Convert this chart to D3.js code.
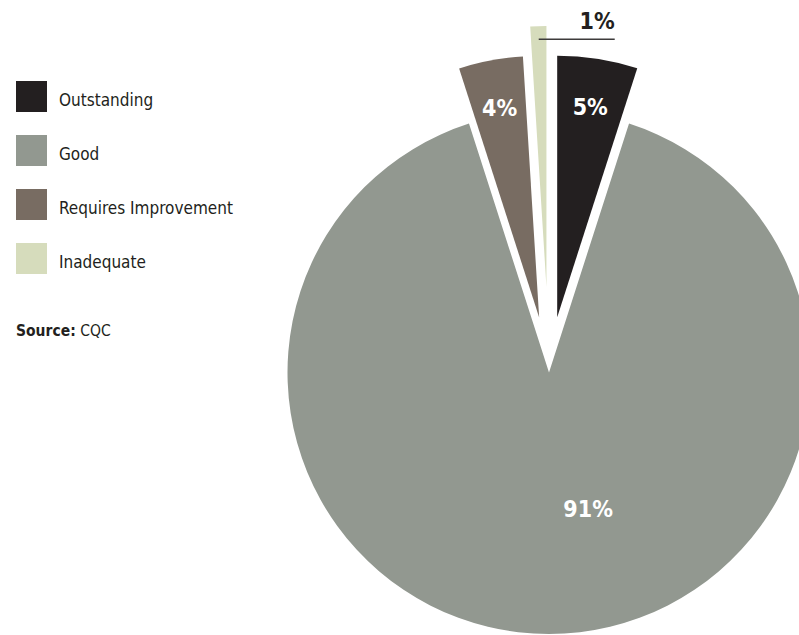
<!DOCTYPE html>
<html>
<head>
<meta charset="utf-8">
<script src="https://cdn.jsdelivr.net/npm/d3@7"></script>
<style>
  html, body { margin: 0; padding: 0; background: #ffffff; }
  svg { display: block; }
</style>
</head>
<body>
<svg id="chart" width="799" height="635"></svg>
<script>
// CQC ratings breakdown
const categories = ["Outstanding", "Good", "Requires Improvement", "Inadequate"];
const shares = [5, 91, 4, 1];
const shareLabels = ["5%", "91%", "4%", "1%"];
const sourceLabel = "CQC";

const W = 799, H = 635;
const cx = 549, cy = 369.5, R = 261.5;

const palette = ["#231f20", "#929890", "#786c62", "#d6dcbc"];
const color = d3.scaleOrdinal().domain(categories).range(palette);

// how far each wedge is pulled out from the centre
const explode = { "Outstanding": 53, "Good": 3, "Requires Improvement": 53, "Inadequate": 82 };
// label placement: radius from the wedge's own centre, and an angular nudge (degrees)
const labelPos = {
  "Outstanding": { r: 213, turn: 0 },
  "Good": { r: 142, turn: -16 },
  "Requires Improvement": { r: 213, turn: 0 }
};

const data = categories.map((c, i) => ({ category: c, value: shares[i], label: shareLabels[i] }));

const svg = d3.select("#chart");

const pie = d3.pie().sort(null).value(d => d.value).startAngle(0).endAngle(2 * Math.PI);
const arc = d3.arc().innerRadius(0).outerRadius(R);
const arcs = pie(data);

const polar = (angle, r) => [Math.sin(angle) * r, -Math.cos(angle) * r];

const slices = svg.append("g").attr("class", "pie")
  .selectAll("g")
  .data(arcs)
  .join("g")
  .attr("transform", d => {
    const mid = (d.startAngle + d.endAngle) / 2;
    const [ox, oy] = polar(mid, explode[d.data.category]);
    return `translate(${cx + ox},${cy + oy})`;
  });

slices.append("path")
  .attr("d", arc)
  .attr("fill", d => color(d.data.category));

const labelFont = "'DejaVu Sans Condensed', 'DejaVu Sans', sans-serif";

// labels sitting inside their wedges
slices.filter(d => labelPos[d.data.category])
  .append("text")
  .attr("transform", d => {
    const p = labelPos[d.data.category];
    const mid = (d.startAngle + d.endAngle) / 2 + p.turn * Math.PI / 180;
    const [x, y] = polar(mid, p.r);
    return `translate(${x},${y})`;
  })
  .attr("text-anchor", "middle")
  .attr("dy", "0.36em")
  .attr("fill", "#ffffff")
  .attr("font-family", labelFont)
  .attr("font-weight", "bold")
  .attr("font-size", 23)
  .text(d => d.data.label);

// thin wedge gets an outside label with a leader line
const thin = slices.filter(d => !labelPos[d.data.category]);
thin.each(function (d) {
  const g = d3.select(this);
  const mid = (d.startAngle + d.endAngle) / 2;
  const [x0, y0] = polar(mid, R * 0.95);
  const x1 = x0 + 76;
  g.append("line")
    .attr("x1", x0).attr("y1", y0)
    .attr("x2", x1).attr("y2", y0)
    .attr("stroke", "#3d3b3b")
    .attr("stroke-width", 1.5);
  g.append("text")
    .attr("x", x1)
    .attr("y", y0 - 10)
    .attr("text-anchor", "end")
    .attr("fill", "#231f20")
    .attr("font-family", labelFont)
    .attr("font-weight", "bold")
    .attr("font-size", 23)
    .text(d.data.label);
});

// legend
const legendFont = "'DejaVu Sans Condensed', 'DejaVu Sans', sans-serif";
const legend = svg.append("g").attr("class", "legend").attr("transform", "translate(16,81)");
const item = legend.selectAll("g")
  .data(categories)
  .join("g")
  .attr("transform", (d, i) => `translate(0,${i * 54})`);

item.append("rect")
  .attr("width", 31)
  .attr("height", 31)
  .attr("fill", d => color(d));

item.append("text")
  .attr("x", 43)
  .attr("y", 25)
  .attr("fill", "#231f20")
  .attr("font-family", legendFont)
  .attr("font-size", 17)
  .text(d => d);

const source = svg.append("text")
  .attr("x", 16)
  .attr("y", 336)
  .attr("fill", "#231f20")
  .attr("font-family", legendFont)
  .attr("font-size", 15.5);
source.append("tspan").attr("font-weight", "bold").text("Source:");
source.append("tspan").text(" " + sourceLabel);
</script>
</body>
</html>
